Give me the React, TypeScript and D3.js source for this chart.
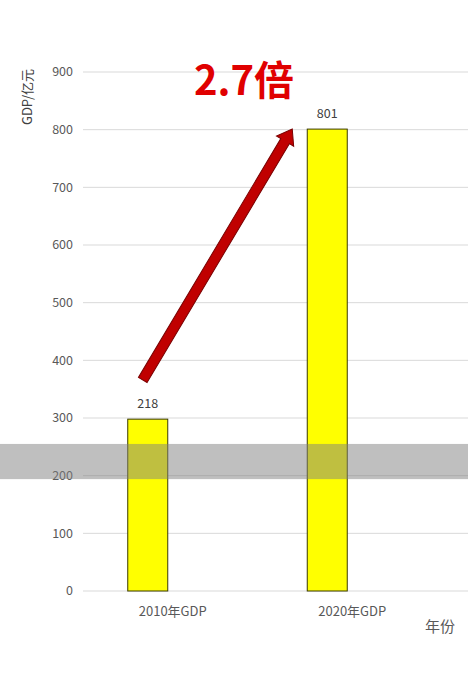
import React from "react";
import * as d3 from "d3";

// categories and values
const categories = ["2010年GDP", "2020年GDP"];
const barValues = [298, 801];
const barLabels = ["218", "801"];
const yTicks = [0, 100, 200, 300, 400, 500, 600, 700, 800, 900];
const bandRange = [194, 255];
const arrowFrom = 366;
const ratioText = "2.7倍";

const width = 468;
const height = 687;
const font = "'Noto Sans CJK SC', 'Noto Sans', sans-serif";

export default function App() {
  const y = d3.scaleLinear().domain([0, 900]).range([591, 72]);
  const x = d3.scaleBand().domain(categories).range([58, 417]).paddingInner(0).paddingOuter(0);
  const barW = 40;
  const cx = (c: string) => (x(c) ?? 0) + x.bandwidth() / 2;

  // arrow geometry
  const x0 = cx(categories[0]) - 5;
  const y0 = y(arrowFrom);
  const x1 = cx(categories[1]) - barW / 2 - 15;
  const y1 = y(barValues[1]);
  const ang = Math.atan2(y1 - y0, x1 - x0);
  const len = Math.hypot(x1 - x0, y1 - y0);
  const shaft = 5;
  const head = 10;
  const headLen = 14;
  const arrowPts: [number, number][] = [
    [0, -shaft],
    [len - headLen, -shaft],
    [len - headLen, -head],
    [len, 0],
    [len - headLen, head],
    [len - headLen, shaft],
    [0, shaft],
  ];

  return (
    <div style={{ position: "fixed", left: 0, top: 0 }}>
      <svg width={width} height={height} style={{ display: "block", background: "#fff" }}>
        {yTicks.map((t) => (
          <g key={t}>
            <line x1={83} x2={width} y1={y(t)} y2={y(t)} stroke="#d9d9d9" strokeWidth={1} />
            <text
              x={73}
              y={y(t)}
              dy="0.35em"
              textAnchor="end"
              fontFamily={font}
              fontSize={12.5}
              fill="#595959"
            >
              {t}
            </text>
          </g>
        ))}
        <text
          transform={`translate(32,97) rotate(-90)`}
          textAnchor="middle"
          fontFamily={font}
          fontSize={13}
          fill="#404040"
        >
          GDP/亿元
        </text>
        {categories.map((c, i) => (
          <g key={c}>
            <rect
              x={cx(c) - barW / 2}
              y={y(barValues[i])}
              width={barW}
              height={y(0) - y(barValues[i])}
              fill="#ffff00"
              stroke="#3a3a00"
              strokeWidth={1}
            />
            <text
              x={cx(c)}
              y={y(barValues[i]) - 11}
              textAnchor="middle"
              fontFamily={font}
              fontSize={12.5}
              fill="#404040"
            >
              {barLabels[i]}
            </text>
            <text
              x={cx(c) + 25}
              y={y(0) + 25}
              textAnchor="middle"
              fontFamily={font}
              fontSize={13}
              fill="#595959"
            >
              {c}
            </text>
          </g>
        ))}
        <rect
          x={0}
          y={y(bandRange[1])}
          width={width}
          height={y(bandRange[0]) - y(bandRange[1])}
          fill="#808080"
          opacity={0.5}
        />
        <text x={440} y={632} textAnchor="middle" fontFamily={font} fontSize={15} fill="#595959">
          年份
        </text>
        <polygon
          transform={`translate(${x0},${y0}) rotate(${(ang * 180) / Math.PI})`}
          points={arrowPts.map((p) => p.join(",")).join(" ")}
          fill="#c00000"
          stroke="#7a0000"
          strokeWidth={1}
        />
        <text
          x={244}
          y={95}
          textAnchor="middle"
          fontFamily={font}
          fontWeight="bold"
          fontSize={40}
          fill="#e00000"
        >
          {ratioText}
        </text>
      </svg>
    </div>
  );
}
